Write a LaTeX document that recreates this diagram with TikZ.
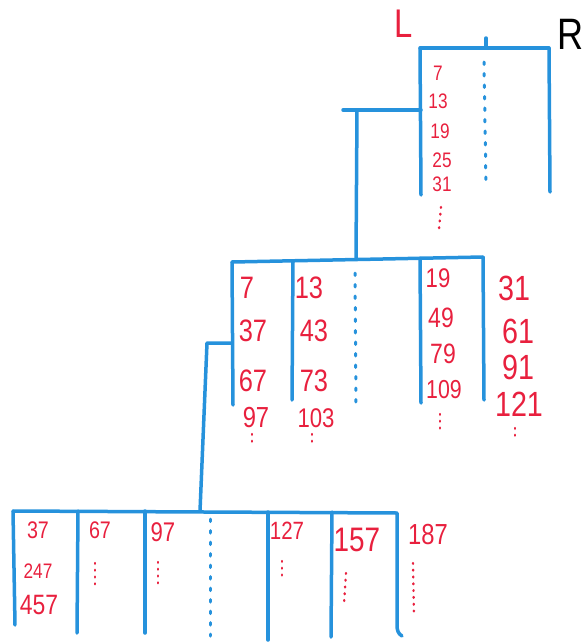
\documentclass[tikz,border=0pt]{standalone}
\usepackage{fontspec}
\setmainfont{Liberation Sans}
\definecolor{penblue}{RGB}{38,146,220}
\definecolor{penred}{RGB}{232,32,62}
\newcommand{\nb}[1]{\scalebox{0.82}[1]{#1}}
\tikzset{
  bl/.style={draw=penblue,line width=3.5pt,line cap=round,line join=round},
  bdot/.style={draw=penblue,line width=3pt,line cap=round,dash pattern=on 2.5pt off 9pt},
  rdot/.style={draw=penred,line width=2.4pt,line cap=round,dash pattern=on 0.8pt off 6pt},
  num/.style={text=penred,inner sep=0pt,font=\fontsize{#1}{#1}\selectfont},
  num/.default=20
}
\begin{document}
\begin{tikzpicture}[x=1pt,y=-1pt]
\useasboundingbox (0,0) rectangle (586,643);
% ---------- labels
\node[text=penred,font=\fontsize{40}{40}\selectfont] (L) at (404,24) {\nb{L}};
\node[text=black,font=\fontsize{44}{44}\selectfont] (R) at (571,34) {\nb{R}};
% ---------- top tree
\coordinate (t1) at (420,48); \coordinate (t2) at (549,48);
\coordinate (tt) at (486,38); \coordinate (tm) at (486,48);
\coordinate (t1b) at (421,195); \coordinate (t2b) at (550,192);
\coordinate (tda) at (484,62); \coordinate (tdb) at (486,185);
\coordinate (tc1) at (421,110); \coordinate (tc0) at (343,110);
\coordinate (tc2) at (357,110);
\draw[bl] (t1) -- (t2);
\draw[bl] (tt) -- (tm);
\draw[bl] (t1) -- (t1b);
\draw[bl] (t2) -- (t2b);
\draw[bdot] (tda) -- (tdb);
\draw[bl] (tc1) -- (tc0);
\node[num=21] (n7) at (438,73) {\nb{7}};
\node[num=21] (n13) at (438,101) {\nb{13}};
\node[num=21] (n19) at (440,131) {\nb{19}};
\node[num=21] (n25) at (442,160) {\nb{25}};
\node[num=21] (n31) at (442,184) {\nb{31}};
\coordinate (td1) at (441,207); \coordinate (td2) at (439,229);
\draw[rdot] (td1) -- (td2);
% ---------- middle tree
\coordinate (m1) at (232,262); \coordinate (m2) at (293,261);
\coordinate (m3) at (356,259); \coordinate (m4) at (420,258);
\coordinate (m5) at (483,257);
\draw[bl] (tc2) -- (m3);
\draw[bl] (m1) -- (m5);
\coordinate (m1b) at (233,405); \coordinate (m2b) at (292,400);
\coordinate (m3a) at (355,273); \coordinate (m3b) at (356,405);
\coordinate (m4b) at (421,403); \coordinate (m5b) at (484,400);
\draw[bl] (m1) -- (m1b);
\draw[bl] (m2) -- (m2b);
\draw[bdot] (m3a) -- (m3b);
\draw[bl] (m4) -- (m4b);
\draw[bl] (m5) -- (m5b);
% column 1
\node[num=31] (a7) at (247,288) {\nb{7}};
\node[num=31] (a37) at (253,331) {\nb{37}};
\node[num=31] (a67) at (253,381) {\nb{67}};
\node[num=29] (a97) at (256,418) {\nb{97}};
\coordinate (ad1) at (252,434); \coordinate (ad2) at (252,447);
\draw[rdot] (ad1) -- (ad2);
% column 2
\node[num=31] (b13) at (309,288) {\nb{13}};
\node[num=31] (b43) at (314,331) {\nb{43}};
\node[num=31] (b73) at (314,381) {\nb{73}};
\node[num=27] (b103) at (316,418) {\nb{103}};
\coordinate (bd1) at (312,434); \coordinate (bd2) at (312,447);
\draw[rdot] (bd1) -- (bd2);
% column 4
\node[num=27] (c19) at (438,278) {\nb{19}};
\node[num=28] (c49) at (441,318) {\nb{49}};
\node[num=28] (c79) at (443,354) {\nb{79}};
\node[num=26] (c109) at (444,390) {\nb{109}};
\coordinate (cd1) at (440,414); \coordinate (cd2) at (440,434);
\draw[rdot] (cd1) -- (cd2);
% column 5
\node[num=35] (e31) at (514,288) {\nb{31}};
\node[num=35] (e61) at (518,331) {\nb{61}};
\node[num=35] (e91) at (518,367) {\nb{91}};
\node[num=35] (e121) at (519,404) {\nb{121}};
\coordinate (ed1) at (515,428); \coordinate (ed2) at (515,441);
\draw[rdot] (ed1) -- (ed2);
% connector to bottom tree
\coordinate (mc1) at (232,343); \coordinate (mc0) at (207,343);
\coordinate (k4) at (200,511);
\draw[bl] (mc1) -- (mc0) -- (k4);
% ---------- bottom tree
\coordinate (k1) at (13,511); \coordinate (k2) at (78,511);
\coordinate (k3) at (145,511); \coordinate (k5) at (268,512);
\coordinate (k6) at (332,512); \coordinate (k7) at (397,513);
\draw[bl] (k1) -- (k7);
\coordinate (k1b) at (15,625); \coordinate (k2b) at (77,633);
\coordinate (k3b) at (145,633); \coordinate (kda) at (210,519);
\coordinate (kdb) at (210,636); \coordinate (k5b) at (268,640);
\coordinate (k6b) at (331,637); \coordinate (k7b) at (402,636);
\coordinate (k7m) at (397,625);
\draw[bl] (k1) -- (k1b);
\draw[bl] (k2) -- (k2b);
\draw[bl] (k3) -- (k3b);
\draw[bdot] (kda) -- (kdb);
\draw[bl] (k5) -- (k5b);
\draw[bl] (k6) -- (k6b);
\draw[bl] (k7) -- (k7m) to[out=-90,in=150] (k7b);
\node[num=24] (p37) at (38,530) {\nb{37}};
\node[num=21] (p247) at (38,571) {\nb{247}};
\node[num=28] (p457) at (39,605) {\nb{457}};
\node[num=24] (p67) at (100,530) {\nb{67}};
\node[num=27] (p97) at (163,532) {\nb{97}};
\node[num=25] (p127) at (287,531) {\nb{127}};
\node[num=34] (p157) at (357,540) {\nb{157}};
\node[num=29] (p187) at (428,535) {\nb{187}};
\coordinate (pd1a) at (95,563); \coordinate (pd1b) at (95,588);
\coordinate (pd2a) at (158,562); \coordinate (pd2b) at (158,588);
\coordinate (pd3a) at (282,561); \coordinate (pd3b) at (282,580);
\coordinate (pd4a) at (346,573); \coordinate (pd4b) at (344,604);
\coordinate (pd5a) at (413,563); \coordinate (pd5b) at (414,617);
\draw[rdot] (pd1a) -- (pd1b);
\draw[rdot] (pd2a) -- (pd2b);
\draw[rdot] (pd3a) -- (pd3b);
\draw[rdot] (pd4a) -- (pd4b);
\draw[rdot] (pd5a) -- (pd5b);
\end{tikzpicture}
\end{document}
